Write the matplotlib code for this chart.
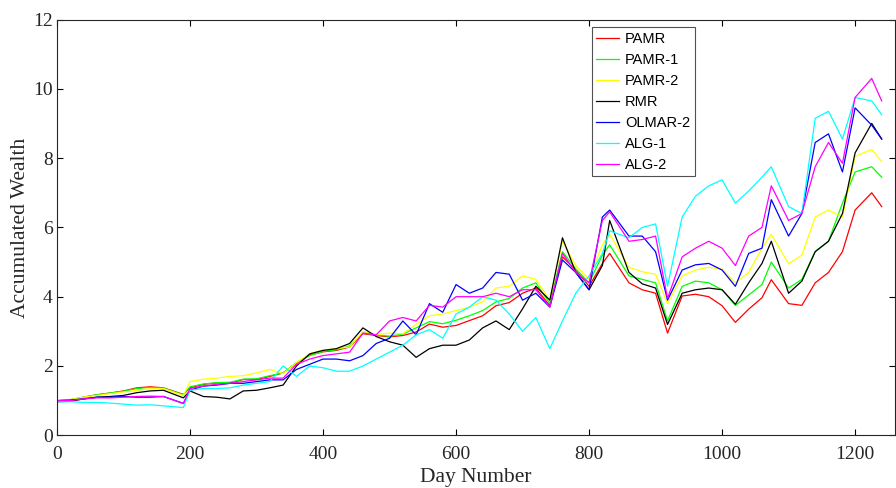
import numpy as np
import matplotlib
matplotlib.use("Agg")
import matplotlib.pyplot as plt

# sample days (roughly every 20 days, shifted onto the visible peaks and dips)
days = [0, 20, 40, 60, 80, 100, 120, 140, 160, 190, 200, 220, 240, 260, 280, 300,
        320, 340, 360, 380, 400, 420, 440, 460, 480, 500, 520, 540, 560, 580, 600, 620,
        640, 660, 680, 700, 720, 741, 760, 780, 800, 820, 831, 860, 880, 900, 918, 940,
        960, 980, 1000, 1020, 1040, 1060, 1074, 1100, 1120, 1140, 1160, 1181, 1200, 1225, 1240]

pamr = [1.0, 1.02, 1.1, 1.17, 1.22, 1.28, 1.37, 1.4, 1.37, 1.18, 1.37, 1.47, 1.51, 1.51, 1.61, 1.61,
        1.7, 1.8, 2.08, 2.32, 2.41, 2.45, 2.55, 2.93, 2.88, 2.84, 2.88, 2.98, 3.21, 3.12, 3.17, 3.31,
        3.45, 3.74, 3.83, 4.1, 4.25, 3.74, 5.15, 4.77, 4.3, 4.96, 5.25, 4.4, 4.2, 4.1, 2.95, 4.02,
        4.07, 4.0, 3.74, 3.26, 3.64, 3.97, 4.49, 3.8, 3.75, 4.4, 4.7, 5.3, 6.5, 7.0, 6.6]
pamr1 = [1.0, 1.03, 1.1, 1.17, 1.22, 1.27, 1.35, 1.38, 1.36, 1.17, 1.4, 1.48, 1.52, 1.53, 1.62, 1.63,
         1.72, 1.8, 2.1, 2.3, 2.42, 2.47, 2.58, 2.95, 2.9, 2.86, 2.92, 3.1, 3.28, 3.22, 3.32, 3.45,
         3.6, 3.85, 3.95, 4.25, 4.4, 3.8, 5.3, 4.8, 4.4, 5.2, 5.5, 4.6, 4.5, 4.4, 3.3, 4.3,
         4.45, 4.4, 4.2, 3.75, 4.05, 4.35, 5.0, 4.25, 4.5, 5.3, 5.6, 6.7, 7.6, 7.75, 7.45]
pamr2 = [1.0, 1.03, 1.1, 1.15, 1.2, 1.25, 1.3, 1.35, 1.35, 1.15, 1.55, 1.62, 1.65, 1.7, 1.72, 1.8,
         1.9, 1.78, 2.1, 2.35, 2.46, 2.5, 2.55, 3.0, 2.9, 2.95, 2.93, 3.2, 3.45, 3.5, 3.6, 3.7,
         3.85, 4.25, 4.3, 4.6, 4.5, 3.9, 5.6, 4.9, 4.5, 5.5, 5.8, 4.85, 4.72, 4.65, 3.8, 4.6,
         4.77, 4.85, 4.8, 4.4, 4.7, 5.4, 5.8, 4.95, 5.2, 6.3, 6.5, 6.3, 8.05, 8.25, 7.9]
rmr = [0.97, 0.98, 1.05, 1.1, 1.12, 1.15, 1.23, 1.28, 1.3, 1.08, 1.28, 1.12, 1.1, 1.05, 1.28, 1.3,
       1.37, 1.45, 2.0, 2.35, 2.45, 2.5, 2.65, 3.1, 2.85, 2.7, 2.6, 2.25, 2.5, 2.6, 2.6, 2.75,
       3.1, 3.3, 3.05, 3.65, 4.3, 3.9, 5.7, 4.7, 4.2, 4.9, 6.2, 4.7, 4.37, 4.25, 3.2, 4.1,
       4.2, 4.25, 4.2, 3.78, 4.4, 4.96, 5.6, 4.1, 4.45, 5.3, 5.6, 6.4, 8.15, 9.0, 8.55]
olmar2 = [1.0, 1.02, 1.05, 1.1, 1.1, 1.12, 1.1, 1.1, 1.12, 0.92, 1.3, 1.42, 1.45, 1.5, 1.5, 1.55,
          1.6, 1.6, 1.9, 2.05, 2.2, 2.2, 2.15, 2.3, 2.65, 2.8, 3.3, 2.9, 3.8, 3.55, 4.35, 4.1,
          4.25, 4.7, 4.65, 3.9, 4.1, 3.7, 5.06, 4.7, 4.2, 6.3, 6.5, 5.75, 5.75, 5.3, 3.9, 4.77,
          4.92, 4.96, 4.77, 4.3, 5.25, 5.4, 6.8, 5.75, 6.4, 8.45, 8.7, 7.6, 9.45, 8.95, 8.55]
alg1 = [0.97, 0.97, 0.95, 0.95, 0.93, 0.9, 0.87, 0.88, 0.85, 0.8, 1.3, 1.35, 1.35, 1.37, 1.45, 1.5,
        1.55, 2.0, 1.7, 2.0, 1.95, 1.85, 1.85, 2.0, 2.2, 2.4, 2.6, 2.9, 3.05, 2.8, 3.5, 3.7,
        4.0, 3.9, 3.5, 3.0, 3.4, 2.5, 3.3, 4.1, 4.6, 5.25, 5.9, 5.7, 6.0, 6.1, 4.3, 6.3,
        6.9, 7.2, 7.37, 6.7, 7.05, 7.45, 7.75, 6.6, 6.4, 9.15, 9.35, 8.55, 9.75, 9.65, 9.25]
alg2 = [1.0, 1.0, 1.05, 1.08, 1.08, 1.1, 1.12, 1.13, 1.12, 0.92, 1.35, 1.42, 1.47, 1.5, 1.55, 1.6,
        1.65, 1.65, 2.05, 2.2, 2.3, 2.35, 2.4, 2.95, 2.9, 3.3, 3.4, 3.3, 3.75, 3.7, 4.0, 4.0,
        4.0, 4.1, 4.0, 4.2, 4.2, 3.7, 5.25, 4.7, 4.4, 6.2, 6.45, 5.6, 5.65, 5.75, 3.95, 5.15,
        5.4, 5.6, 5.4, 4.9, 5.75, 6.0, 7.2, 6.2, 6.4, 7.75, 8.45, 7.85, 9.75, 10.3, 9.65]

series = [("PAMR", pamr, "#ff0000"),
          ("PAMR-1", pamr1, "#00ff00"),
          ("PAMR-2", pamr2, "#ffff00"),
          ("RMR", rmr, "#000000"),
          ("OLMAR-2", olmar2, "#0000ff"),
          ("ALG-1", alg1, "#00ffff"),
          ("ALG-2", alg2, "#ff00ff")]

serif = "Liberation Serif"

fig = plt.figure(figsize=(8.96, 4.88), dpi=100)
ax = fig.add_axes([57 / 896, 52.7 / 488, 838 / 896, 415.8 / 488])

for name, vals, col in series:
    ax.plot(days, vals, color=col, lw=0.9, label=name)

ax.set_xlim(0, 1260)
ax.set_ylim(0, 12)
ax.set_xticks(np.arange(0, 1201, 200))
ax.set_yticks(np.arange(0, 13, 2))
ax.tick_params(direction="in", top=True, right=True, length=4, width=0.8, labelsize=14,
               labelcolor="#262626")
ax.tick_params(axis="x", pad=8)
ax.tick_params(axis="y", pad=3)
for lab in ax.get_xticklabels() + ax.get_yticklabels():
    lab.set_family(serif)
for sp in ax.spines.values():
    sp.set_linewidth(0.8)
    sp.set_color("#262626")

ax.set_xlabel("Day Number", family=serif, fontsize=15.5, labelpad=3, color="#262626")
ax.set_ylabel("Accumulated Wealth", family=serif, fontsize=15.5, labelpad=2.5, color="#262626")

leg = ax.legend(loc="upper left", bbox_to_anchor=(0.638, 0.981), prop={"family": "Liberation Sans", "size": 10.5},
                frameon=True, fancybox=False, borderaxespad=0, handlelength=1.6, handletextpad=0.4,
                labelspacing=0.48, borderpad=0.3)
leg.get_frame().set_edgecolor("#262626")
leg.get_frame().set_linewidth(0.8)

fig.savefig("out.png", dpi=100)
